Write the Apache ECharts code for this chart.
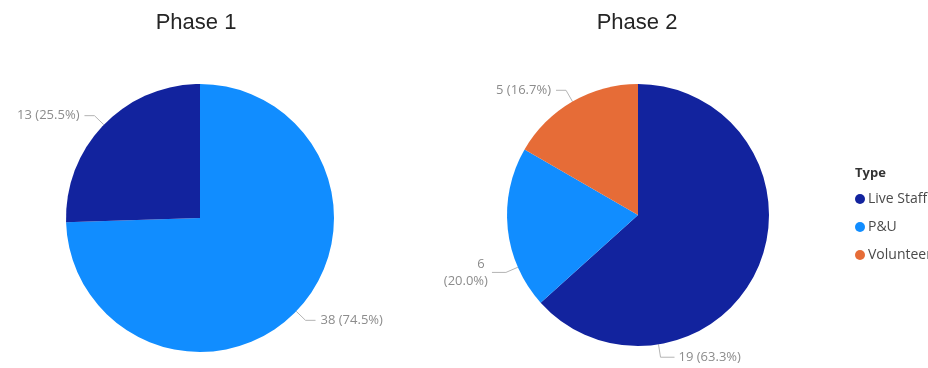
<!DOCTYPE html>
<html>
<head>
<meta charset="utf-8">
<script src="https://cdn.jsdelivr.net/npm/echarts@6/dist/echarts.min.js"></script>
<style>html,body{margin:0;padding:0;background:#fff}#c{width:928px;height:368px}</style>
</head>
<body>
<div id="c"></div>
<script>
const types = ['Live Staff', 'P&U', 'Volunteer'];
const phase1Names = ['P&U', 'Live Staff'];
const phase1Values = [38, 13];
const phase2Names = ['Live Staff', 'P&U', 'Volunteer'];
const phase2Values = [19, 6, 5];
const titles = ['Phase 1', 'Phase 2'];

const colors = {'Live Staff': '#12239E', 'P&U': '#118DFF', 'Volunteer': '#E66C37'};
const font = "'Segoe UI', 'Open Sans', 'Noto Sans', sans-serif";

// pie geometry (style)
const pies = [{c: [200, 218], r: 134}, {c: [638, 215], r: 131}];
// label anchor angle overrides (degrees) where the label sits off the slice middle
const anchorOverride = {'1|Live Staff': -81, '1|P&U': 203.5};

function buildData(names, values, breakName) {
  return names.map((n, i) => {
    const d = {name: n, value: values[i], itemStyle: {color: colors[n]}};
    if (n === breakName) d.label = {width: 52, overflow: 'break', align: 'right', lineHeight: 17};
    return d;
  });
}

function makeLayout(si, names) {
  return function (params) {
    const key = si + '|' + names[params.dataIndex];
    if (!(key in anchorOverride)) return;
    const a = anchorOverride[key] * Math.PI / 180;
    const p = pies[si];
    const dx = Math.cos(a), dy = -Math.sin(a);
    const edge = [p.c[0] + p.r * dx, p.c[1] + p.r * dy];
    const bend = [edge[0] + 13 * dx, edge[1] + 13 * dy];
    const side = dx >= 0 ? 1 : -1;
    const end = [bend[0] + side * 14, bend[1]];
    return {
      x: end[0] + side * 4,
      y: end[1],
      align: side > 0 ? 'left' : 'right',
      verticalAlign: 'middle',
      labelLinePoints: [edge, bend, end]
    };
  };
}

const labelCommon = {
  show: true,
  color: '#8c8c8c',
  fontSize: 13,
  fontFamily: font,
  formatter: p => p.value + ' (' + p.percent.toFixed(1) + '%)'
};
const lineCommon = {show: true, length: 13, length2: 10, lineStyle: {color: '#b4b4b4', width: 1}};
const titleStyle = {fontFamily: 'Liberation Sans, Arial', fontSize: 22, fontWeight: 'normal', color: '#252525'};

const chart = echarts.init(document.getElementById('c'));
chart.setOption({
  animation: false,
  title: [
    {text: titles[0], left: 196, top: 12, padding: 0, textAlign: 'center', textStyle: titleStyle},
    {text: titles[1], left: 637, top: 12, padding: 0, textAlign: 'center', textStyle: titleStyle},
    {text: 'Type', left: 855, top: 167, padding: 0, textStyle: {fontFamily: font, fontSize: 13, fontWeight: 'bold', color: '#333'}}
  ],
  legend: {
    orient: 'vertical',
    left: 855,
    top: 192,
    padding: 0,
    data: types,
    icon: 'circle',
    itemWidth: 10,
    itemHeight: 10,
    itemGap: 14,
    textStyle: {fontFamily: font, fontSize: 14, color: '#4a4a4a', padding: [0, 0, 0, -2]}
  },
  series: [
    {
      type: 'pie',
      center: pies[0].c,
      radius: pies[0].r,
      startAngle: 90,
      percentPrecision: 1,
      silent: true,
      label: labelCommon,
      labelLine: lineCommon,
      labelLayout: makeLayout(0, phase1Names),
      data: buildData(phase1Names, phase1Values)
    },
    {
      type: 'pie',
      center: pies[1].c,
      radius: pies[1].r,
      startAngle: 90,
      percentPrecision: 1,
      silent: true,
      label: labelCommon,
      labelLine: lineCommon,
      labelLayout: makeLayout(1, phase2Names),
      data: buildData(phase2Names, phase2Values, 'P&U')
    }
  ]
});
</script>
</body>
</html>
